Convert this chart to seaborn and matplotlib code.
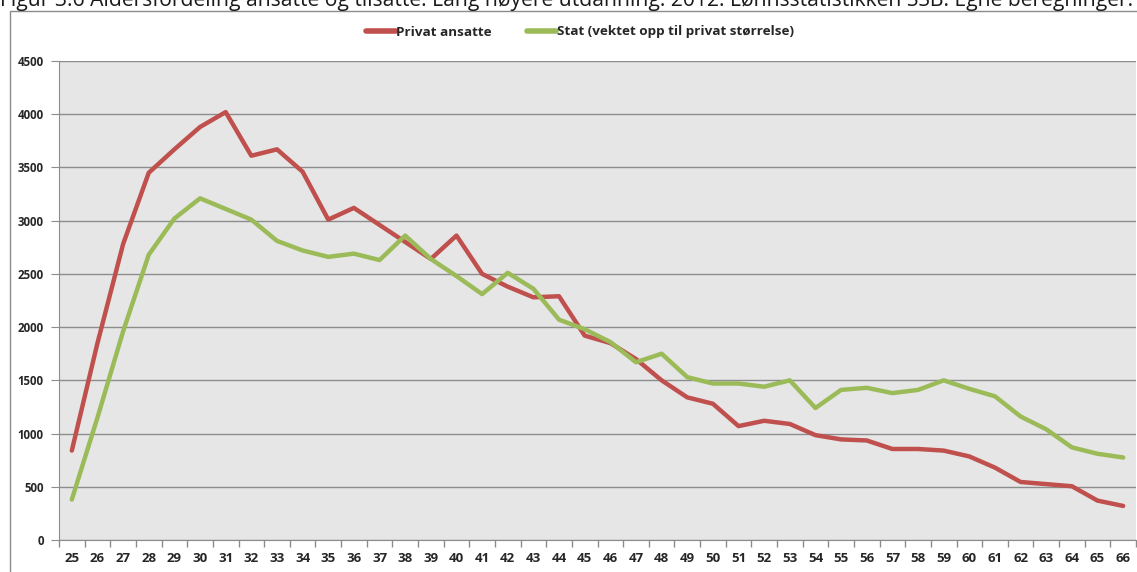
import pandas as pd
import matplotlib.pyplot as plt
import seaborn as sns
from matplotlib.patches import Rectangle

# Alder 25-66
alder = list(range(25, 67))
privat = [840, 1850, 2780, 3450, 3670, 3880, 4020, 3610, 3670, 3460,
          3010, 3120, 2960, 2800, 2640, 2860, 2500, 2380, 2280, 2290,
          1920, 1850, 1700, 1500, 1340, 1280, 1070, 1120, 1090, 985,
          945, 935, 855, 855, 840, 785, 680, 545, 525, 505, 370, 320]
stat = [380, 1150, 1960, 2680, 3020, 3210, 3110, 3010, 2810, 2720,
        2660, 2690, 2630, 2860, 2640, 2480, 2310, 2510, 2360, 2070,
        1980, 1860, 1670, 1750, 1530, 1470, 1470, 1440, 1500, 1240,
        1410, 1430, 1380, 1410, 1500, 1420, 1350, 1160, 1040, 870,
        810, 775]
serier = ['Privat ansatte', 'Stat (vektet opp til privat størrelse)']

df = pd.concat([
    pd.DataFrame({'alder': alder, 'antall': privat, 'serie': serier[0]}),
    pd.DataFrame({'alder': alder, 'antall': stat, 'serie': serier[1]}),
])

sns.set_style('white')
plt.rcParams['font.family'] = ['Open Sans', 'DejaVu Sans']

fig = plt.figure(figsize=(11.37, 5.72), dpi=100)
ax = fig.add_axes([59 / 1137, 1 - 540 / 572, 1077 / 1137, 479 / 572])
ax.set_facecolor('#e6e6e6')

sns.lineplot(data=df, x='alder', y='antall', hue='serie',
             palette=['#c0504d', '#9bbb59'], linewidth=3.2, ax=ax,
             solid_capstyle='round')

ax.set_xlim(24.5, 66.5)
ax.set_ylim(0, 4500)
ax.set_yticks(range(0, 4501, 500))
ax.yaxis.grid(True, color='#8c8c8c', linewidth=1)
ax.set_axisbelow(True)
ax.set_xticks(alder)
ax.set_xticks([a - 0.5 for a in alder] + [66.5], minor=True)
ax.tick_params(axis='x', which='major', length=0, pad=9, labelsize=9.5)
ax.tick_params(axis='x', which='minor', length=5, color='#8c8c8c', width=1, direction='out')
ax.tick_params(axis='y', length=6, color='#8c8c8c', labelsize=8.3, pad=5, direction='out')
ax.xaxis.set_ticks_position('bottom')
ax.yaxis.set_ticks_position('left')
for lab in ax.get_xticklabels() + ax.get_yticklabels():
    lab.set_fontweight('bold')
for s in ['top', 'right']:
    ax.spines[s].set_visible(False)
for s in ['left', 'bottom']:
    ax.spines[s].set_color('#8c8c8c')
ax.set_xlabel('')
ax.set_ylabel('')

handles, labels = ax.get_legend_handles_labels()
for h in handles:
    h.set_linewidth(4)
ax.legend(handles, labels, loc='center', bbox_to_anchor=(580 / 1137, 1 - 32 / 572),
          bbox_transform=fig.transFigure, ncol=2, frameon=False,
          prop={'weight': 'bold', 'size': 9.7}, handlelength=2.2,
          handletextpad=0.05, columnspacing=2.6)

# ramme rundt diagrammet
fig.patches.append(Rectangle((10 / 1137, -0.05), 1.2, 1 - 11 / 572 + 0.05,
                             transform=fig.transFigure, fill=False,
                             edgecolor='#8c8c8c', linewidth=1))

# tittelen er delvis kuttet i toppen, som i originalen
fig.text(0.0, 1 - 6 / 572,
         'Figur 3.6 Aldersfordeling ansatte og tilsatte. Lang høyere utdanning. 2012. '
         'Lønnsstatistikken SSB. Egne beregninger.',
         fontsize=15.2, va='baseline', ha='left', color='#1a1a1a')

fig.savefig('out.png', dpi=100)
